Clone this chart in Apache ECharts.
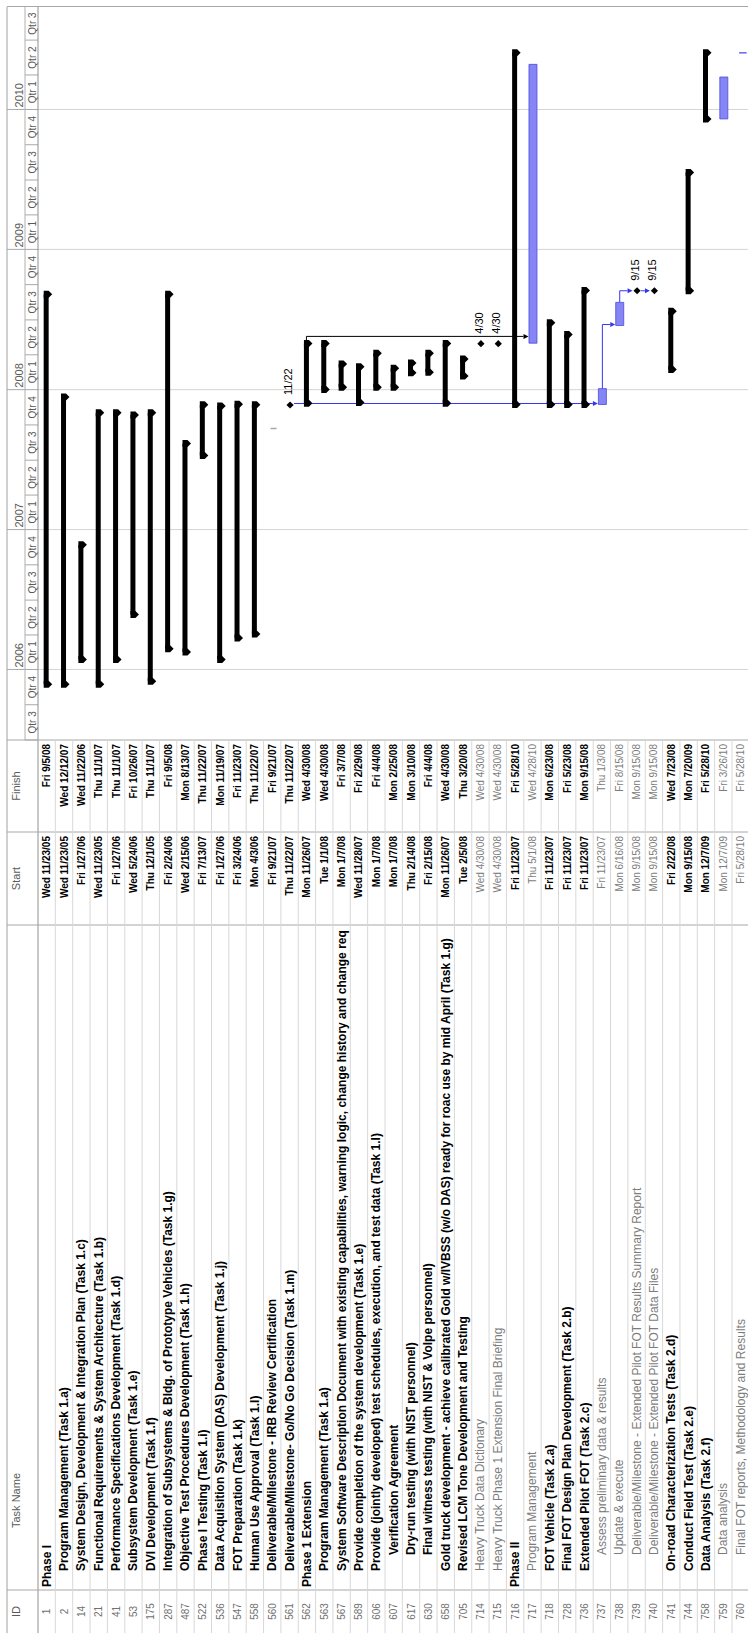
<!DOCTYPE html>
<html><head><meta charset="utf-8">
<script src="https://cdn.jsdelivr.net/npm/echarts@6/dist/echarts.min.js"></script>
<style>
html,body{margin:0;padding:0;width:748px;height:1633px;overflow:hidden;background:#fff;}
#chart{position:absolute;left:0;top:0;width:1633px;height:748px;transform-origin:0 0;transform:translate(0,1633px) rotate(-90deg);background:#fff;}
</style></head><body><div id="chart"></div>
<script>
// ---------------- data ----------------
const taskIds = [1,2,14,21,41,53,175,287,487,522,536,547,558,560,561,562,563,567,589,606,607,617,630,658,705,714,715,716,717,718,728,736,737,738,739,740,741,744,758,759,760];
const taskNames = [
'Phase I',
'Program Management (Task 1.a)',
'System Design, Development & Integration Plan (Task 1.c)',
'Functional Requirements & System Architecture (Task 1.b)',
'Performance Specifications Development (Task 1.d)',
'Subsystem Development (Task 1.e)',
'DVI Development (Task 1.f)',
'Integration of Subsystems & Bldg. of Prototype Vehicles (Task 1.g)',
'Objective Test Procedures Development (Task 1.h)',
'Phase I Testing (Task 1.i)',
'Data Acquisition System (DAS) Development (Task 1.j)',
'FOT Preparation (Task 1.k)',
'Human Use Approval (Task 1.l)',
'Deliverable/Milestone - IRB Review Certification',
'Deliverable/Milestone- Go/No Go Decision (Task 1.m)',
'Phase 1 Extension',
'Program Management (Task 1.a)',
'System Software Description Document with existing capabilities, warning logic, change history and change req',
'Provide completion of the system development (Task 1.e)',
'Provide (jointly developed) test schedules, execution, and test data (Task 1.l)',
'Verification Agreement',
'Dry-run testing (with NIST personnel)',
'Final witness testing (with NIST & Volpe personnel)',
'Gold truck development - achieve calibrated Gold w/IVBSS (w/o DAS) ready for roac use by mid April (Task 1.g)',
'Revised LCM Tone Development and Testing',
'Heavy Truck Data Dictionary',
'Heavy Truck Phase 1 Extension Final Briefing',
'Phase II',
'Program Management',
'FOT Vehicle (Task 2.a)',
'Final FOT Design Plan Development (Task 2.b)',
'Extended Pilot FOT (Task 2.c)',
'Assess preliminary data & results',
'Update & execute',
'Deliverable/Milestone - Extended Pilot FOT Results Summary Report',
'Deliverable/Milestone - Extended Pilot FOT Data Files',
'On-road Characterization Tests (Task 2.d)',
'Conduct Field Test (Task 2.e)',
'Data Analysis (Task 2.f)',
'Data analysis',
'Final FOT reports, Methodology and Results'
];
const outlineLevels = [1,2,2,2,2,2,2,2,2,2,2,2,2,2,2,1,2,2,2,2,3,3,3,2,2,2,2,1,2,2,2,2,3,3,3,3,2,2,2,3,3];
const startDates = ['Wed 11/23/05','Wed 11/23/05','Fri 1/27/06','Wed 11/23/05','Fri 1/27/06','Wed 5/24/06','Thu 12/1/05','Fri 2/24/06','Wed 2/15/06','Fri 7/13/07','Fri 1/27/06','Fri 3/24/06','Mon 4/3/06','Fri 9/21/07','Thu 11/22/07','Mon 11/26/07','Tue 1/1/08','Mon 1/7/08','Wed 11/28/07','Mon 1/7/08','Mon 1/7/08','Thu 2/14/08','Fri 2/15/08','Mon 11/26/07','Tue 2/5/08','Wed 4/30/08','Wed 4/30/08','Fri 11/23/07','Thu 5/1/08','Fri 11/23/07','Fri 11/23/07','Fri 11/23/07','Fri 11/23/07','Mon 6/16/08','Mon 9/15/08','Mon 9/15/08','Fri 2/22/08','Mon 9/15/08','Mon 12/7/09','Mon 12/7/09','Fri 5/28/10'];
const finishDates = ['Fri 9/5/08','Wed 12/12/07','Wed 11/22/06','Thu 11/1/07','Thu 11/1/07','Fri 10/26/07','Thu 11/1/07','Fri 9/5/08','Mon 8/13/07','Thu 11/22/07','Mon 11/19/07','Fri 11/23/07','Thu 11/22/07','Fri 9/21/07','Thu 11/22/07','Wed 4/30/08','Wed 4/30/08','Fri 3/7/08','Fri 2/29/08','Fri 4/4/08','Mon 2/25/08','Mon 3/10/08','Fri 4/4/08','Wed 4/30/08','Thu 3/20/08','Wed 4/30/08','Wed 4/30/08','Fri 5/28/10','Wed 4/28/10','Mon 6/23/08','Fri 5/23/08','Mon 9/15/08','Thu 1/3/08','Fri 8/15/08','Mon 9/15/08','Mon 9/15/08','Wed 7/23/08','Mon 7/20/09','Fri 5/28/10','Fri 3/26/10','Fri 5/28/10'];
// S = summary bar, T = task bar, M = milestone, G = grey marker, X = link stub
const barTypes = 'SSSSSSSSSSSSSGMSSSSSSSSSSMMSTSSSTTMMSSSTX'.split('');
const lightRowIds = [714,715,717,737,738,739,740,759,760];
const linkFrom = [561,737,738,739,562];
const linkTo = [737,738,739,740,717];
const linkColors = ['#3535ee','#3535ee','#3535ee','#3535ee','#000000'];
const quarterStarts = ['2005-07-01','2005-10-01','2006-01-01','2006-04-01','2006-07-01','2006-10-01','2007-01-01','2007-04-01','2007-07-01','2007-10-01','2008-01-01','2008-04-01','2008-07-01','2008-10-01','2009-01-01','2009-04-01','2009-07-01','2009-10-01','2010-01-01','2010-04-01','2010-07-01'];
const quarterLabels = ['Qtr 3','Qtr 4','Qtr 1','Qtr 2','Qtr 3','Qtr 4','Qtr 1','Qtr 2','Qtr 3','Qtr 4','Qtr 1','Qtr 2','Qtr 3','Qtr 4','Qtr 1','Qtr 2','Qtr 3','Qtr 4','Qtr 1','Qtr 2','Qtr 3'];
const yearStarts = ['2006-01-01','2007-01-01','2008-01-01','2009-01-01','2010-01-01'];
const yearLabels = ['2006','2007','2008','2009','2010'];
const columnHeaders = ['ID','Task Name','Start','Finish'];

// ---------------- layout ----------------
const W = 1633, H = 748;
const HEAD_TOP = 7, HEAD_MID = 25, HEAD_BOT = 38;
const ROW_H = 17.35;
const COL_ID = [0, 43], COL_NAME = [43, 708], COL_START = [708, 801], COL_FINISH = [801, 893];
const GRID_LEFT = 893, GRID_RIGHT_EDGE = 1626;
const PX_PER_DAY = 0.3833;
const DAY = 86400000;
const FONT = '"Liberation Sans", Arial, sans-serif';

function parseDate(s){ const p = s.split(' ')[1].split('/').map(Number); return Date.UTC(2000 + p[2], p[0] - 1, p[1]); }
function parseISO(s){ const p = s.split('-').map(Number); return Date.UTC(p[0], p[1] - 1, p[2]); }
const axisMin = parseISO(quarterStarts[0]);
const axisMax = axisMin + (GRID_RIGHT_EDGE - GRID_LEFT) / PX_PER_DAY * DAY;
const yMax = -0.5 + (H - HEAD_BOT) / ROW_H;
const rowOf = id => taskIds.indexOf(id);
const barStart = i => parseDate(startDates[i]) + 0.33 * DAY;
const barEnd = i => barTypes[i] === 'M' ? parseDate(finishDates[i]) : parseDate(finishDates[i]) + 0.7 * DAY;

function txt(str, x, y, fill, font, align, extra){
  return {type:'text', silent:true, style:Object.assign({text:String(str), x:x, y:y, fill:fill, font:font, textAlign:align, textVerticalAlign:'middle', align:align, verticalAlign:'middle'}, extra || {})};
}
function ln(x1,y1,x2,y2,color,w){ return {type:'line', silent:true, shape:{x1:x1,y1:y1,x2:x2,y2:y2}, style:{stroke:color, lineWidth:w || 1}}; }

function renderDecor(params, api){
  const ch = [];
  const X = t => api.coord([t, 0])[0];
  const gx1 = X(axisMin), gx2 = X(axisMax);
  const hdrFont = '10px ' + FONT;
  yearStarts.forEach((d, k) => {
    const x = X(parseISO(d));
    ch.push(ln(x, HEAD_BOT, x, H, '#d4d4d4'));
    ch.push(ln(x, HEAD_TOP, x, HEAD_MID, '#a9a9a9'));
    ch.push(txt(yearLabels[k], x + 2, 18.5, '#5a5a5a', '11px ' + FONT, 'left'));
  });
  quarterStarts.forEach((d, k) => {
    const x0 = X(parseISO(d));
    const x1 = k + 1 < quarterStarts.length ? X(parseISO(quarterStarts[k + 1])) : gx2;
    const xe = Math.min(x1, gx2);
    ch.push(ln(x0, HEAD_MID, x0, HEAD_BOT, '#a9a9a9'));
    ch.push(txt(quarterLabels[k], (x0 + xe) / 2, 32, '#5a5a5a', hdrFont, 'center'));
  });
  ch.push(ln(0, HEAD_TOP, gx2, HEAD_TOP, '#a0a0a0'));
  ch.push(ln(gx1, HEAD_MID, gx2, HEAD_MID, '#b0b0b0'));
  ch.push(ln(0, HEAD_BOT, gx2, HEAD_BOT, '#909090'));
  ch.push(ln(gx2 + 0.5, HEAD_TOP, gx2 + 0.5, H, '#a8a8a8'));
  [COL_ID[1], COL_NAME[1], COL_START[1], COL_FINISH[1]].forEach(x => ch.push(ln(x, HEAD_TOP, x, H, '#a8a8a8')));
  ch.push(txt(columnHeaders[0], (COL_ID[0] + COL_ID[1]) / 2, 16, '#5a5a5a', '11px ' + FONT, 'center'));
  ch.push(txt(columnHeaders[1], COL_NAME[0] + 62, 16, '#5a5a5a', '11px ' + FONT, 'left'));
  ch.push(txt(columnHeaders[2], (COL_START[0] + COL_START[1]) / 2, 16, '#5a5a5a', '11px ' + FONT, 'center'));
  ch.push(txt(columnHeaders[3], (COL_FINISH[0] + COL_FINISH[1]) / 2, 16, '#5a5a5a', '11px ' + FONT, 'center'));
  return {type:'group', children: ch};
}

function renderRow(params, api){
  const i = api.value(1);
  const yc = api.coord([axisMin, i])[1];
  const h = api.size([0, 1])[1];
  const light = lightRowIds.indexOf(taskIds[i]) >= 0;
  const weight = light ? '' : 'bold ';
  const fill = light ? '#7c7c7c' : '#000000';
  const ch = [];
  ch.push(ln(0, yc + h / 2, COL_FINISH[1], yc + h / 2, '#d8d8d8'));
  ch.push(txt(taskIds[i], (COL_ID[0] + COL_ID[1]) / 2, yc, '#707070', '10px ' + FONT, 'center'));
  const nx = COL_NAME[0] + 3 + (outlineLevels[i] - 1) * 16;
  ch.push(txt(taskNames[i], nx, yc, fill, weight + '12px ' + FONT, 'left', {width: COL_NAME[1] - nx - 1, overflow:'truncate', ellipsis:''}));
  ch.push(txt(startDates[i], COL_START[1] - 4, yc, fill, weight + '10px ' + FONT, 'right'));
  ch.push(txt(finishDates[i], COL_FINISH[1] - 4, yc, fill, weight + '10px ' + FONT, 'right'));
  return {type:'group', children: ch};
}

function renderBar(params, api){
  const s = api.value(0), i = api.value(1), e = api.value(2);
  const t = barTypes[i];
  const p0 = api.coord([s, i]);
  const xs = p0[0], yc = p0[1];
  const xe = api.coord([e, i])[0];
  const ch = [];
  if (t === 'S') {
    ch.push({type:'rect', shape:{x:xs, y:yc - 3, width:Math.max(xe - xs, 1), height:5}, style:{fill:'#000'}});
    [xs, xe].forEach(x => ch.push({type:'polygon', shape:{points:[[x - 3.5, yc - 3], [x + 3.5, yc - 3], [x + 3.5, yc + 2], [x, yc + 5.5], [x - 3.5, yc + 2]]}, style:{fill:'#000'}}));
  } else if (t === 'T') {
    ch.push({type:'rect', shape:{x:xs, y:yc - 3.5, width:Math.max(xe - xs, 1), height:8}, style:{fill:'#8585f6', stroke:'#4b4bd8', lineWidth:0.8}});
  } else if (t === 'M') {
    const cy = yc + 0.5;
    ch.push({type:'polygon', shape:{points:[[xe, cy - 3.6], [xe + 3.6, cy], [xe, cy + 3.6], [xe - 3.6, cy]]}, style:{fill:'#000'}});
    const md = finishDates[i].split(' ')[1].split('/');
    ch.push(txt(md[0] + '/' + md[1], xe + 10, yc - 1.5, '#000', '11px ' + FONT, 'left'));
  } else if (t === 'G') {
    ch.push(ln(xe, yc - 1.7, xe, yc + 4.3, '#a8a8a8', 1.5));
  } else if (t === 'X') {
    ch.push(ln(xe, yc - 1.6, xe, yc + 6, '#4040e6', 1.2));
  }
  return {type:'group', children: ch};
}

function renderLink(params, api){
  const k = api.value(1);
  const p = rowOf(linkFrom[k]), q = rowOf(linkTo[k]);
  const color = linkColors[k];
  const pt = barTypes[p], qt = barTypes[q];
  const yp = api.coord([axisMin, p])[1], yq = api.coord([axisMin, q])[1];
  const xpe = api.coord([barEnd(p), p])[0];
  const xqs = api.coord([qt === 'M' ? barEnd(q) : barStart(q), q])[0];
  const gap = pt === 'M' ? 0 : 7;
  const xEntry = Math.max(xqs + (qt === 'T' ? 1 : 0), xpe + gap);
  const pMid = pt === 'S' ? yp - 0.5 : yp + 0.5;
  const qTop = qt === 'T' ? yq - 3.5 : (qt === 'M' ? yq - 3.5 : yq - 3);
  const tip = qTop - 0.5, base = tip - 5;
  const pts = pt === 'M' ? [[xEntry, pMid + 4], [xEntry, base]] : [[xpe, pMid], [xEntry, pMid], [xEntry, base]];
  return {type:'group', children:[
    {type:'polyline', shape:{points:pts}, style:{stroke:color, lineWidth:1, fill:null}},
    {type:'polygon', shape:{points:[[xEntry - 2.5, base], [xEntry + 2.5, base], [xEntry, tip]]}, style:{fill:color}}
  ]};
}

const chart = echarts.init(document.getElementById('chart'), null, {renderer:'svg', width:W, height:H});
chart.setOption({
  animation:false,
  backgroundColor:'#ffffff',
  grid:{left:GRID_LEFT, right:W - GRID_RIGHT_EDGE, top:HEAD_BOT, bottom:0, containLabel:false},
  xAxis:{type:'value', min:axisMin, max:axisMax, show:false},
  yAxis:{type:'value', min:-0.5, max:yMax, inverse:true, show:false},
  series:[
    {type:'custom', name:'grid', renderItem:renderDecor, data:[[axisMin, 0]], silent:true, z:1, clip:false},
    {type:'custom', name:'table', renderItem:renderRow, data:taskIds.map((id, i) => [axisMin, i]), silent:true, z:2, clip:false},
    {type:'custom', name:'links', renderItem:renderLink, data:linkFrom.map((f, k) => [axisMin, k]), silent:true, z:3, clip:false},
    {type:'custom', name:'bars', renderItem:renderBar, data:taskIds.map((id, i) => [barStart(i), i, barEnd(i)]), silent:true, z:4, clip:false}
  ]
});
</script></body></html>
